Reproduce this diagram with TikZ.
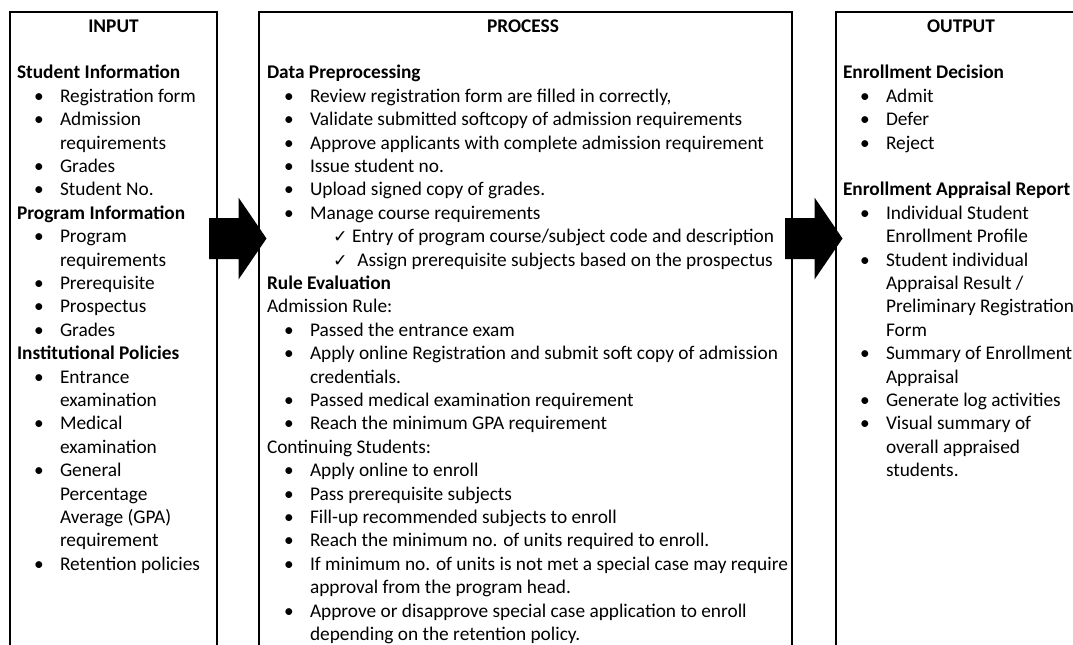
\documentclass[tikz,border=0pt]{standalone}
\usepackage{fontspec}
\setmainfont{Carlito}
\newfontfamily\chkfont{DejaVu Sans}
\usetikzlibrary{fit,calc}
\newcommand\fnt{\fontsize{14.5pt}{17.6pt}\selectfont}
\newcommand\Txt[5]{\node[#1] (#2) at (#3,{32+23.4*#4}) {#5};}
\newcommand\blockarrow[1]{\fill[black] (#1) ++(0,-20.5) -- ++(29.5,0) -- ++(0,-20.5) -- ++(28,41) -- ++(-28,41) -- ++(0,-20.5) -- ++(-29.5,0) -- cycle;}
\tikzset{
  panel/.style={draw=black, line width=1.2pt, inner sep=0pt, outer sep=0pt},
  txt/.style={anchor=base west, inner sep=0pt, outer sep=0pt, font=\fnt, text=black},
  ttl/.style={txt, anchor=base, font=\fnt\bfseries},
  lhead/.style={txt, font=\fnt\bfseries},
  lplain/.style={txt},
  lbul/.style={txt, xshift=12.75pt, execute at begin node={\makebox[19.5pt][l]{•}}},
  lcont/.style={txt, xshift=32.25pt},
  lchk/.style={txt, xshift=49.5pt, execute at begin node={\makebox[14.25pt][l]{\chkfont\fontsize{13pt}{14pt}\selectfont ✓}}},
}
\begin{document}
\begin{tikzpicture}[x=0.75pt,y=-0.75pt]
\useasboundingbox (0,0) rectangle (1073,644);
\clip (0,0) rectangle (1073,644);
\fill[white] (0,0) rectangle (1073,644);
% panels
\node[panel, fit={(10,12) (217,700)}] (inbox) {};
\node[panel, fit={(259,12) (792,700)}] (procbox) {};
\node[panel, fit={(836,12) (1110,700)}] (outbox) {};
% arrows
\coordinate (a1) at ($(inbox.north east)+(-8,226.5)$);
\coordinate (a2) at ($(procbox.north east)+(-7,226.5)$);
\blockarrow{a1}
\blockarrow{a2}
% INPUT
\node[ttl] (tin) at (113.5,32) {INPUT};
\Txt{lhead}{i2}{17}{2}{Student Information}
\Txt{lbul}{i3}{17}{3}{Registration form}
\Txt{lbul}{i4}{17}{4}{Admission}
\Txt{lcont}{i5}{17}{5}{requirements}
\Txt{lbul}{i6}{17}{6}{Grades}
\Txt{lbul}{i7}{17}{7}{Student No.}
\Txt{lhead}{i8}{17}{8}{Program Information}
\Txt{lbul}{i9}{17}{9}{Program}
\Txt{lcont}{i10}{17}{10}{requirements}
\Txt{lbul}{i11}{17}{11}{Prerequisite}
\Txt{lbul}{i12}{17}{12}{Prospectus}
\Txt{lbul}{i13}{17}{13}{Grades}
\Txt{lhead}{i14}{17}{14}{Institutional Policies}
\Txt{lbul}{i15}{17}{15}{Entrance}
\Txt{lcont}{i16}{17}{16}{examination}
\Txt{lbul}{i17}{17}{17}{Medical}
\Txt{lcont}{i18}{17}{18}{examination}
\Txt{lbul}{i19}{17}{19}{General}
\Txt{lcont}{i20}{17}{20}{Percentage}
\Txt{lcont}{i21}{17}{21}{Average (GPA)}
\Txt{lcont}{i22}{17}{22}{requirement}
\Txt{lbul}{i23}{17}{23}{Retention policies}
% PROCESS
\node[ttl] (tproc) at (523,32) {PROCESS};
\Txt{lhead}{p2}{267}{2}{Data Preprocessing}
\Txt{lbul}{p3}{267}{3}{Review registration form are filled in correctly,}
\Txt{lbul}{p4}{267}{4}{Validate submitted softcopy of admission requirements}
\Txt{lbul}{p5}{267}{5}{Approve applicants with complete admission requirement}
\Txt{lbul}{p6}{267}{6}{Issue student no.}
\Txt{lbul}{p7}{267}{7}{Upload signed copy of grades.}
\Txt{lbul}{p8}{267}{8}{Manage course requirements}
\Txt{lchk}{p9}{267}{9}{Entry of program course/subject code and description}
\Txt{lchk}{p10}{267}{10}{\hspace{4pt}Assign prerequisite subjects based on the prospectus}
\Txt{lhead}{p11}{267}{11}{Rule Evaluation}
\Txt{lplain}{p12}{267}{12}{Admission Rule:}
\Txt{lbul}{p13}{267}{13}{Passed the entrance exam}
\Txt{lbul}{p14}{267}{14}{Apply online Registration and submit soft copy of admission}
\Txt{lcont}{p15}{267}{15}{credentials.}
\Txt{lbul}{p16}{267}{16}{Passed medical examination requirement}
\Txt{lbul}{p17}{267}{17}{Reach the minimum GPA requirement}
\Txt{lplain}{p18}{267}{18}{Continuing Students:}
\Txt{lbul}{p19}{267}{19}{Apply online to enroll}
\Txt{lbul}{p20}{267}{20}{Pass prerequisite subjects}
\Txt{lbul}{p21}{267}{21}{Fill-up recommended subjects to enroll}
\Txt{lbul}{p22}{267}{22}{Reach the minimum no. of units required to enroll.}
\Txt{lbul}{p23}{267}{23}{If minimum no. of units is not met a special case may require}
\Txt{lcont}{p24}{267}{24}{approval from the program head.}
\Txt{lbul}{p25}{267}{25}{Approve or disapprove special case application to enroll}
\Txt{lcont}{p26}{267}{26}{depending on the retention policy.}
% OUTPUT
\node[ttl] (tout) at (961,32) {OUTPUT};
\Txt{lhead}{o2}{843}{2}{Enrollment Decision}
\Txt{lbul}{o3}{843}{3}{Admit}
\Txt{lbul}{o4}{843}{4}{Defer}
\Txt{lbul}{o5}{843}{5}{Reject}
\Txt{lhead}{o7}{843}{7}{Enrollment Appraisal Report}
\Txt{lbul}{o8}{843}{8}{Individual Student}
\Txt{lcont}{o9}{843}{9}{Enrollment Profile}
\Txt{lbul}{o10}{843}{10}{Student individual}
\Txt{lcont}{o11}{843}{11}{Appraisal Result /}
\Txt{lcont}{o12}{843}{12}{Preliminary Registration}
\Txt{lcont}{o13}{843}{13}{Form}
\Txt{lbul}{o14}{843}{14}{Summary of Enrollment}
\Txt{lcont}{o15}{843}{15}{Appraisal}
\Txt{lbul}{o16}{843}{16}{Generate log activities}
\Txt{lbul}{o17}{843}{17}{Visual summary of}
\Txt{lcont}{o18}{843}{18}{overall appraised}
\Txt{lcont}{o19}{843}{19}{students.}
\end{tikzpicture}
\end{document}
